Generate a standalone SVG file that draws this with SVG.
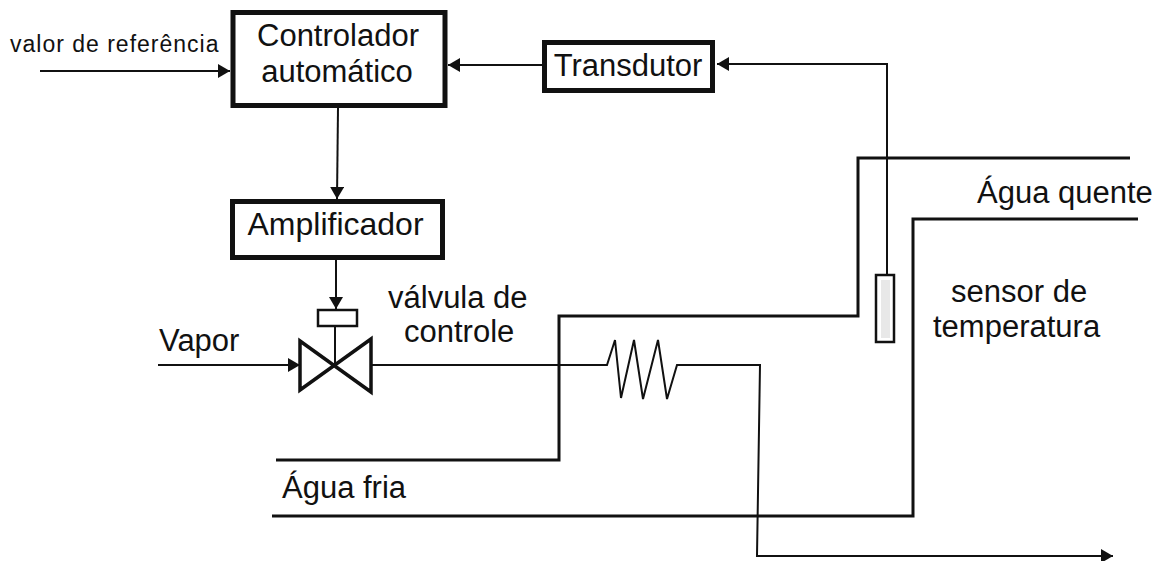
<svg xmlns="http://www.w3.org/2000/svg" width="1156" height="561" viewBox="0 0 1156 561">
<defs>
<marker id="a" markerUnits="userSpaceOnUse" markerWidth="13" markerHeight="14" refX="12" refY="7" orient="auto"><path d="M0 0L12 7L0 14Z" fill="#111"/></marker>
</defs>
<style>
text{font-family:"Liberation Sans",Arial,sans-serif;fill:#111}
.t{font-size:31px}
.box{fill:#fff;stroke:#111;stroke-width:5}
.l{fill:none;stroke:#111;stroke-width:2}
.p{fill:none;stroke:#111;stroke-width:3}
</style>
<rect width="1156" height="561" fill="#fff"/>
<g id="connectors">
<path class="l" d="M40 71H230" marker-end="url(#a)"/>
<path class="l" d="M542 65H448" marker-end="url(#a)"/>
<path class="l" d="M887 275V64H717" marker-end="url(#a)"/>
<path class="l" d="M338 108L337 199" marker-end="url(#a)"/>
<path class="l" d="M336 258V309" marker-end="url(#a)"/>
<path class="l" d="M158 365H300" marker-end="url(#a)"/>
<path class="l" d="M371 365H607L615 340L621 398L634 340L643 399L658 340L667 399L677 365H760L757 556H1113" marker-end="url(#a)"/>
<path class="p" d="M276 460H559V316H858V158H1130"/>
<path class="p" d="M272 516H913V219H1138"/>
</g>
<g id="n1"><rect class="box" x="233" y="12.500" width="212" height="93"/><text class="t" x="338" y="46" text-anchor="middle">Controlador</text><text class="t" x="337" y="82" text-anchor="middle">automático</text></g>
<g id="n2"><rect class="box" x="544.500" y="42.500" width="168" height="48"/><text class="t" x="628" y="76" text-anchor="middle">Transdutor</text></g>
<g id="n3"><rect class="box" x="232.500" y="201.500" width="210" height="56"/><text class="t" x="335.500" y="235" text-anchor="middle" style="font-size:32px">Amplificador</text></g>
<g id="valve"><rect x="318" y="310" width="39" height="16" fill="#fff" stroke="#111" stroke-width="2.500"/><path d="M335 326V365" class="l"/><path d="M300 341L371 392V339L300 390Z" fill="#fff" stroke="#111" stroke-width="3.500"/></g>
<g id="sensor"><rect x="876" y="275" width="18" height="67" fill="#fff" stroke="#111" stroke-width="2.500"/><rect x="881" y="280" width="9" height="58" fill="#e8e8e8"/></g>
<g id="labels">
<text x="10" y="52" font-size="23" letter-spacing="1">valor de referência</text>
<text class="t" x="159" y="351">Vapor</text>
<text class="t" x="388" y="308">válvula de</text>
<text class="t" x="404" y="342">controle</text>
<text class="t" x="977" y="203">Água quente</text>
<text class="t" x="951" y="302">sensor de</text>
<text class="t" x="933" y="337">temperatura</text>
<text class="t" x="282" y="498">Água fria</text>
</g>
</svg>
